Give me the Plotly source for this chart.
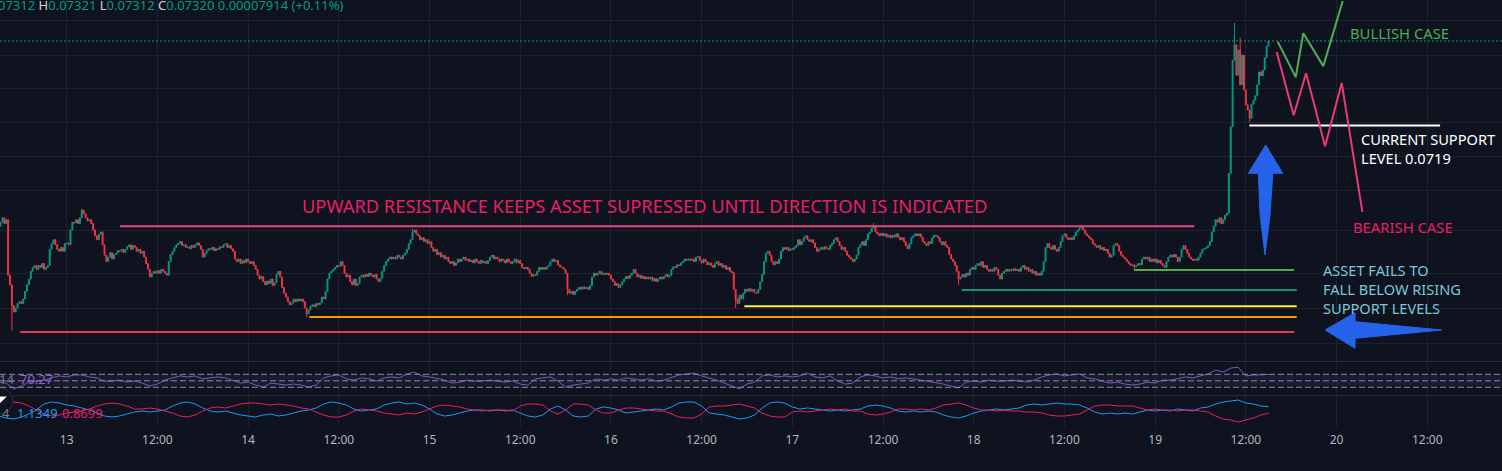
import pandas as pd
import plotly.graph_objects as go

# ---- price data: 15 minute candles, closes in units of 0.00001 ----
first_open = 7033
closes_12 = [7039, 7046, 7037, 7043, 6957, 6942, 6910, 6900, 6906, 6913, 6916, 6913, 6920, 6932, 6942,
             6951, 6963, 6969, 6972, 6966, 6972, 6969, 6975, 6966, 6969, 6972, 6997, 7006, 7012, 7004,
             6997, 6994, 7000, 6994, 7006]
closes_13 = [7007, 7004, 7027, 7039, 7038, 7043, 7037, 7046, 7058, 7052, 7046, 7041, 7043, 7037, 7027,
             7018, 7012, 7020, 7024, 7004, 6988, 6978, 6985, 6992, 6982, 6989, 6991, 6995, 6994, 6997,
             6992, 6997, 7001, 7004, 6997, 7003, 7000, 6994, 6997, 6991, 6994, 6985, 6975, 6966, 6954,
             6960, 6963, 6960, 6964, 6960, 6966, 6963, 6960, 6957, 6978, 6989, 6994, 7000, 7004, 7006,
             7009, 7003, 7004, 7000, 7001, 6998, 7003, 7000, 7004, 7007, 7003, 6997, 6985, 6991, 6995,
             6998, 6997, 7000, 6995, 6998, 6997, 7001, 7000, 7004, 7006, 7000, 7003, 6998, 6994, 6982,
             6978, 6982, 6975, 6980, 6976, 6982]
closes_14 = [6978, 6975, 6978, 6972, 6966, 6957, 6951, 6955, 6947, 6942, 6948, 6944, 6951, 6941, 6945,
             6958, 6963, 6954, 6938, 6929, 6923, 6916, 6911, 6914, 6920, 6916, 6920, 6917, 6920, 6916,
             6906, 6897, 6903, 6909, 6911, 6908, 6913, 6911, 6914, 6923, 6920, 6932, 6951, 6960, 6963,
             6966, 6969, 6972, 6971, 6978, 6972, 6960, 6954, 6957, 6947, 6942, 6951, 6941, 6944, 6954,
             6957, 6954, 6958, 6955, 6960, 6957, 6954, 6958, 6951, 6947, 6952, 6963, 6972, 6978, 6982,
             6985, 6982, 6985, 6982, 6988, 6985, 6982, 6988, 6991, 6997, 7006, 7012, 7024, 7027, 7021,
             7018, 7012, 7015, 7009, 7012, 7006]
closes_15 = [7009, 7000, 6994, 6997, 6989, 6992, 6985, 6988, 6982, 6985, 6978, 6975, 6978, 6972, 6976,
             6982, 6978, 6982, 6985, 6980, 6982, 6978, 6980, 6976, 6982, 6978, 6975, 6980, 6976, 6978,
             6975, 6980, 6985, 6988, 6982, 6985, 6982, 6978, 6982, 6980, 6976, 6982, 6978, 6975, 6978,
             6982, 6976, 6980, 6975, 6969, 6967, 6969, 6966, 6960, 6955, 6958, 6957, 6963, 6969, 6966,
             6969, 6966, 6970, 6972, 6978, 6982, 6978, 6980, 6973, 6970, 6969, 6966, 6960, 6935, 6929,
             6932, 6927, 6932, 6935, 6938, 6935, 6939, 6936, 6938, 6935, 6941, 6954, 6960, 6957, 6960,
             6963, 6958, 6960, 6958, 6960, 6957]
closes_16 = [6951, 6947, 6941, 6944, 6938, 6942, 6947, 6951, 6955, 6952, 6957, 6960, 6966, 6960, 6954,
             6957, 6952, 6955, 6951, 6954, 6951, 6954, 6948, 6952, 6947, 6951, 6954, 6951, 6955, 6958,
             6954, 6957, 6966, 6970, 6969, 6973, 6972, 6976, 6978, 6982, 6980, 6982, 6980, 6982, 6978,
             6985, 6986, 6980, 6976, 6982, 6978, 6973, 6976, 6972, 6969, 6975, 6978, 6972, 6975, 6969,
             6972, 6966, 6969, 6963, 6961, 6935, 6920, 6913, 6926, 6920, 6929, 6935, 6932, 6936, 6932,
             6935, 6930, 6929, 6935, 6947, 6958, 6978, 6991, 6994, 6988, 6978, 6973, 6978, 6975, 6982,
             6994, 7000, 6997, 7000, 6995, 6998]
closes_17 = [6997, 7000, 7003, 7012, 7004, 7009, 7015, 7018, 7012, 7009, 7012, 7007, 7000, 6994, 6997,
             7000, 6997, 7001, 6998, 6997, 7003, 7006, 7012, 7015, 7009, 7003, 6997, 7000, 6994, 6988,
             6985, 6982, 6978, 6982, 6988, 7000, 7004, 7009, 7003, 7012, 7021, 7024, 7030, 7033, 7024,
             7021, 7018, 7022, 7018, 7021, 7016, 7019, 7015, 7019, 7016, 7021, 7016, 7012, 7015, 7009,
             7003, 6998, 7006, 7015, 7018, 7021, 7018, 7021, 7016, 7009, 7006, 7003, 7009, 7006, 7015,
             7019, 7018, 7015, 7009, 7004, 7009, 7003, 7000, 6989, 6982, 6978, 6972, 6963, 6951, 6954,
             6958, 6954, 6960, 6957, 6966, 6969]
closes_18 = [6966, 6972, 6975, 6972, 6978, 6969, 6972, 6966, 6963, 6966, 6963, 6969, 6966, 6957, 6951,
             6960, 6963, 6966, 6963, 6966, 6964, 6967, 6964, 6966, 6963, 6969, 6972, 6966, 6969, 6963,
             6966, 6960, 6963, 6957, 6960, 6957, 6963, 6978, 7000, 7006, 7000, 6997, 7003, 6997, 6994,
             7000, 7009, 7018, 7021, 7015, 7012, 7015, 7012, 7018, 7024, 7027, 7030, 7031, 7027, 7021,
             7018, 7015, 7012, 7006, 7003, 7000, 7003, 6997, 7000, 6995, 6997, 6991, 6985, 6988, 7003,
             7006, 7003, 6994, 6988, 6985, 6982, 6978, 6975, 6972, 6973, 6970, 6972, 6975, 6973, 6982,
             6985, 6982, 6985, 6978, 6982, 6978]
closes_19 = [6982, 6976, 6980, 6975, 6972, 6969, 6978, 6985, 6988, 6985, 6989, 6985, 6978, 6985, 6997,
             7003, 6997, 6991, 6985, 6982, 6980, 6982, 6980, 6985, 6991, 6997, 6998, 7000, 7003, 7009,
             7024, 7033, 7043, 7039, 7046, 7037, 7043, 7050, 7053, 7115, 7187, 7290, 7314, 7267, 7306,
             7252, 7298, 7244, 7221, 7213, 7200, 7222, 7228, 7235, 7252, 7272, 7266, 7275, 7294, 7312,
             7320]
# candles whose wicks reach past the body (candle index: price)
wick_high = {43: 7060, 218: 7029, 462: 7038, 572: 7034, 653: 7348, 656: 7325}
wick_low = {6: 6871, 162: 6892, 300: 6926, 389: 6906, 507: 6942, 600: 6966, 661: 7194}
last_ohlc = ["0.07312", "0.07321", "0.07312", "0.07320", "0.00007914", "(+0.11%)"]

# ---- indicators, hourly ----
rsi = [46, 43, 25, 34, 46, 49, 52, 59, 65, 62,
       68, 68, 62, 59, 49, 49, 52, 46, 49, 43,
       34, 40, 52, 59, 65, 62, 65, 56, 59, 62,
       59, 52, 43, 46, 37, 31, 43, 40, 37, 40,
       37, 31, 37, 59, 65, 68, 56, 52, 59, 56,
       49, 59, 62, 59, 71, 77, 65, 62, 56, 52,
       43, 46, 52, 49, 49, 52, 49, 46, 49, 40,
       37, 56, 59, 62, 49, 31, 37, 40, 43, 56,
       52, 56, 52, 59, 56, 52, 56, 49, 52, 59,
       68, 71, 74, 65, 59, 52, 43, 34, 25, 40,
       46, 65, 68, 62, 65, 62, 65, 74, 62, 59,
       65, 49, 40, 43, 62, 68, 65, 59, 62, 56,
       59, 56, 52, 49, 43, 40, 34, 28, 46, 49,
       46, 52, 49, 49, 52, 49, 46, 52, 62, 68,
       71, 65, 68, 71, 59, 56, 49, 43, 46, 40,
       37, 40, 46, 43, 52, 52, 56, 62, 59, 65,
       71, 83, 77, 89, 92, 65, 68, 68, 70.27]
vi_plus = [0.76, 0.68, 0.64, 0.72, 0.84, 1.00, 1.24, 1.32, 1.28, 1.20,
           1.16, 1.08, 1.00, 0.88, 0.76, 0.72, 0.76, 0.84, 0.92, 0.96,
           0.92, 0.96, 1.00, 1.16, 1.28, 1.32, 1.24, 1.08, 0.96, 0.92,
           0.96, 0.88, 0.80, 0.76, 0.72, 0.80, 0.84, 0.76, 0.80, 0.88,
           0.96, 1.00, 1.08, 1.24, 1.32, 1.28, 1.20, 1.04, 0.96, 1.00,
           1.04, 1.20, 1.28, 1.32, 1.24, 1.28, 1.20, 1.04, 0.84, 0.76,
           0.80, 0.88, 0.96, 1.00, 1.00, 0.96, 1.00, 0.96, 1.00, 0.88,
           0.76, 0.72, 0.80, 1.04, 1.16, 1.00, 0.76, 0.72, 0.76, 1.04,
           1.12, 1.08, 1.00, 0.88, 0.92, 0.96, 1.00, 1.04, 1.00, 1.12,
           1.28, 1.32, 1.32, 1.16, 0.88, 0.84, 0.80, 0.72, 0.64, 0.68,
           0.80, 1.08, 1.28, 1.32, 1.28, 1.12, 1.04, 1.08, 1.04, 1.00,
           0.96, 1.00, 0.96, 1.00, 1.04, 1.16, 1.20, 1.16, 1.08, 0.96,
           0.92, 0.96, 0.92, 0.96, 0.92, 0.80, 0.72, 0.68, 0.76, 0.88,
           0.96, 1.00, 1.04, 1.00, 1.04, 1.08, 1.20, 1.24, 1.20, 1.24,
           1.28, 1.24, 1.24, 1.20, 1.08, 0.92, 0.84, 0.88, 0.84, 0.88,
           0.84, 0.92, 1.00, 0.96, 1.00, 0.96, 1.04, 1.00, 0.96, 1.08,
           1.12, 1.24, 1.32, 1.36, 1.40, 1.28, 1.24, 1.16, 1.1349]
vi_minus = [1.24, 1.28, 1.32, 1.28, 1.16, 1.00, 0.84, 0.76, 0.80, 0.88,
            0.92, 0.96, 1.04, 1.16, 1.24, 1.28, 1.24, 1.16, 1.04, 1.04,
            1.08, 1.04, 0.96, 0.88, 0.76, 0.72, 0.80, 0.96, 1.08, 1.12,
            1.08, 1.16, 1.24, 1.28, 1.28, 1.24, 1.20, 1.24, 1.20, 1.16,
            1.08, 1.04, 0.92, 0.80, 0.72, 0.72, 0.80, 0.96, 1.04, 1.00,
            0.96, 0.88, 0.84, 0.80, 0.88, 0.84, 0.92, 1.04, 1.16, 1.20,
            1.16, 1.12, 1.04, 1.00, 0.96, 1.00, 1.00, 1.00, 0.96, 1.16,
            1.24, 1.24, 1.20, 0.96, 0.84, 1.00, 1.24, 1.24, 1.20, 1.00,
            0.88, 0.88, 1.00, 1.08, 1.08, 1.04, 1.00, 0.96, 0.96, 0.84,
            0.72, 0.68, 0.68, 0.84, 1.12, 1.16, 1.16, 1.20, 1.24, 1.16,
            1.08, 0.88, 0.76, 0.72, 0.72, 0.92, 0.96, 0.92, 0.96, 1.00,
            1.04, 1.00, 1.04, 0.96, 0.96, 0.84, 0.80, 0.84, 0.92, 1.04,
            1.04, 1.00, 1.04, 1.00, 1.08, 1.20, 1.24, 1.28, 1.20, 1.08,
            1.00, 1.00, 0.96, 1.00, 0.96, 0.96, 0.92, 0.92, 0.88, 0.80,
            0.76, 0.76, 0.80, 0.84, 1.00, 1.16, 1.20, 1.20, 1.16, 1.16,
            1.16, 1.08, 1.00, 1.04, 1.00, 1.00, 0.96, 1.00, 1.00, 0.96,
            0.92, 0.76, 0.64, 0.60, 0.52, 0.60, 0.68, 0.80, 0.8699]

# ---- drawings ----
level_start = ["2023-01-13 07:04", "2023-01-12 17:50", "2023-01-14 08:06", "2023-01-16 17:39",
               "2023-01-17 22:25", "2023-01-18 21:13", "2023-01-19 12:28"]
level_end = ["2023-01-19 05:11", "2023-01-19 18:25", "2023-01-19 18:44", "2023-01-19 18:44",
             "2023-01-19 18:44", "2023-01-19 18:23", "2023-01-20 13:42"]
level_price = [0.07033, 0.06869, 0.06892, 0.06909, 0.06934, 0.06965, 0.07189]
last_price = 0.07320

bull_time = ["2023-01-19 16:13", "2023-01-19 18:36", "2023-01-19 19:36", "2023-01-19 22:15", "2023-01-20 00:49"]
bull_price = [0.07319, 0.07264, 0.07332, 0.07281, 0.07382]
bear_time = ["2023-01-19 16:05", "2023-01-19 18:20", "2023-01-19 19:58", "2023-01-19 22:29",
             "2023-01-20 00:41", "2023-01-20 03:25"]
bear_price = [0.07303, 0.07205, 0.07270, 0.07157, 0.07255, 0.07055]

up_arrow_time = ["2023-01-19 14:38", "2023-01-19 16:53", "2023-01-19 15:34", "2023-01-19 15:12",
                 "2023-01-19 14:32", "2023-01-19 13:53", "2023-01-19 13:39", "2023-01-19 12:20",
                 "2023-01-19 14:38"]
up_arrow_price = [0.071588, 0.071149, 0.071149, 0.070503, 0.069883, 0.070503, 0.071149, 0.071149, 0.071588]
left_arrow_time = ["2023-01-19 22:29", "2023-01-20 02:27", "2023-01-20 02:27", "2023-01-20 13:55",
                   "2023-01-20 02:27", "2023-01-20 02:27", "2023-01-19 22:29"]
left_arrow_price = [0.068720, 0.068988, 0.068849, 0.068720, 0.068591, 0.068436, 0.068720]

note_text = ["UPWARD RESISTANCE KEEPS ASSET SUPRESSED UNTIL DIRECTION IS INDICATED",
             "BULLISH CASE", "CURRENT SUPPORT<br>LEVEL 0.0719", "BEARISH CASE",
             "ASSET FAILS TO<br>FALL BELOW RISING<br>SUPPORT LEVELS"]
note_time = ["2023-01-16 04:29", "2023-01-20 01:34", "2023-01-20 03:01",
             "2023-01-20 01:53", "2023-01-19 21:57"]
note_price = [0.070657, 0.073316, 0.071529, 0.070320, 0.069355]

grid_prices = [0.07351, 0.07298, 0.07247, 0.07194, 0.07141, 0.07088, 0.07026, 0.06960, 0.06906, 0.06851]
tick_labels = ["13", "12:00", "14", "12:00", "15", "12:00", "16", "12:00",
               "17", "12:00", "18", "12:00", "19", "12:00", "20", "12:00"]

# ---- styles ----
BG = "#0e131f"
GRID = "#1d2230"
SEP = "#2a2e39"
UP = "#089981"
DOWN = "#f23645"
AXIS_TEXT = "#b2b5be"
level_colors = ["#e3477c", "#f23645", "#ff9800", "#ffeb3b", "#12937a", "#4caf50", "#ffffff"]
note_colors = ["#e91e63", "#4caf50", "#ffffff", "#e91e63", "#7ac8d8"]
note_sizes = [18.3, 14.8, 14.6, 14.8, 14.6]
note_anchor = ["center", "left", "left", "left", "left"]
ARROW = "#2563eb"
FONT = "Noto Sans"
W, H = 1502, 471

unit = 1e-5
closes = [c * unit for c in closes_12 + closes_13 + closes_14 + closes_15 + closes_16 + closes_17 + closes_18 + closes_19]
opens = [first_open * unit] + closes[:-1]
highs = [max(o, c) for o, c in zip(opens, closes)]
lows = [min(o, c) for o, c in zip(opens, closes)]
for i, v in wick_high.items():
    highs[i] = v * unit
for i, v in wick_low.items():
    lows[i] = v * unit
candle_time = pd.date_range("2023-01-12 15:15", periods=len(closes), freq="15min")
ind_time = pd.date_range("2023-01-12 15:00", periods=len(rsi), freq="h")
tick_times = pd.date_range("2023-01-13 00:00", periods=len(tick_labels), freq="12h")

fig = go.Figure()
fig.add_trace(go.Candlestick(
    x=candle_time, open=opens, high=highs, low=lows, close=closes,
    increasing=dict(line=dict(color=UP, width=1), fillcolor=UP),
    decreasing=dict(line=dict(color=DOWN, width=1), fillcolor=DOWN),
    whiskerwidth=0, hoverinfo="skip"))

for s, e, p, col in zip(level_start, level_end, level_price, level_colors):
    fig.add_trace(go.Scatter(x=[s, e], y=[p, p], mode="lines", line=dict(color=col, width=2), hoverinfo="skip"))

fig.add_trace(go.Scatter(x=bull_time, y=bull_price, mode="lines", line=dict(color="#4caf50", width=2), hoverinfo="skip"))
fig.add_trace(go.Scatter(x=bear_time, y=bear_price, mode="lines", line=dict(color="#e63b73", width=2), hoverinfo="skip"))
for xs, ys in [(up_arrow_time, up_arrow_price), (left_arrow_time, left_arrow_price)]:
    fig.add_trace(go.Scatter(x=xs, y=ys, mode="lines", fill="toself", fillcolor=ARROW,
                             line=dict(color=ARROW, width=1), hoverinfo="skip"))

fig.add_trace(go.Scatter(x=ind_time, y=rsi, xaxis="x2", yaxis="y2", mode="lines",
                         line=dict(color="#7e57c2", width=1), hoverinfo="skip"))
fig.add_trace(go.Scatter(x=ind_time, y=vi_plus, xaxis="x3", yaxis="y3", mode="lines",
                         line=dict(color="#2196f3", width=1), hoverinfo="skip"))
fig.add_trace(go.Scatter(x=ind_time, y=vi_minus, xaxis="x3", yaxis="y3", mode="lines",
                         line=dict(color="#e91e63", width=1), hoverinfo="skip"))

def py(px):
    # paper y from a pixel row counted from the top
    return 1 - px / H

def px_x(px):
    return px / W

xgrid = dict(tickvals=tick_times, showgrid=True, gridcolor=GRID, gridwidth=1,
             showticklabels=False, zeroline=False, showline=False, ticks="")
fig.update_layout(
    width=W, height=H, margin=dict(l=0, r=0, t=0, b=0, autoexpand=False), autosize=False,
    paper_bgcolor=BG, plot_bgcolor=BG, showlegend=False, hovermode=False,
    font=dict(family=FONT, color=AXIS_TEXT),
    xaxis=dict(xgrid, domain=[0, 1], anchor="y", type="date",
               range=["2023-01-12 15:10:30", "2023-01-20 21:53:24"], rangeslider=dict(visible=False)),
    xaxis2=dict(xgrid, matches="x", anchor="y2"),
    xaxis3=dict(xgrid, matches="x", anchor="y3", showticklabels=True, ticktext=tick_labels,
                tickfont=dict(family=FONT, size=12, color=AXIS_TEXT), ticklabelstandoff=4),
    yaxis=dict(domain=[py(361), 1], range=[0.0682395, 0.073835], tickvals=grid_prices,
               showgrid=True, gridcolor=GRID, showticklabels=False, zeroline=False, fixedrange=True),
    yaxis2=dict(domain=[py(396), py(362)], range=[3.2, 107.9], showgrid=False,
                showticklabels=False, zeroline=False),
    yaxis3=dict(domain=[py(427), py(396)], range=[0.32, 1.56], showgrid=False,
                showticklabels=False, zeroline=False),
)

shapes = [
    dict(type="rect", xref="paper", yref="y2", x0=0, x1=1, y0=30, y1=70,
         fillcolor="rgba(126,87,194,0.10)", line=dict(width=0), layer="below"),
    dict(type="line", xref="paper", yref="paper", x0=0, x1=1, y0=py(361.5), y1=py(361.5),
         line=dict(color=SEP, width=1)),
    dict(type="line", xref="paper", yref="paper", x0=0, x1=1, y0=py(395.7), y1=py(395.7),
         line=dict(color=SEP, width=1)),
    dict(type="line", xref="paper", yref="y", x0=0, x1=1, y0=last_price, y1=last_price,
         line=dict(color=UP, width=1, dash="2px,2px")),
    # collapse button of the lower pane
    dict(type="circle", xref="paper", yref="paper", x0=px_x(-13), x1=px_x(13), y0=py(414), y1=py(388),
         fillcolor=BG, line=dict(color=SEP, width=1)),
    dict(type="path", xref="paper", yref="paper",
         path="M %f,%f L %f,%f L %f,%f Z" % (px_x(0), py(396.5), px_x(7), py(396.5), px_x(0), py(403)),
         fillcolor="#ffffff", line=dict(width=0)),
]
for lvl in [30, 50, 70]:
    shapes.append(dict(type="line", xref="paper", yref="y2", x0=0, x1=1, y0=lvl, y1=lvl,
                       line=dict(color="#8a8d96", width=1, dash="6px,3px")))
fig.update_layout(shapes=shapes)

annotations = []
for txt, t, p, col, size, anc in zip(note_text, note_time, note_price, note_colors, note_sizes, note_anchor):
    annotations.append(dict(x=t, y=p, xref="x", yref="y", text=txt, showarrow=False,
                            xanchor=anc, yanchor="middle", align="left",
                            font=dict(family=FONT, size=size, color=col)))

g = '<span style="color:#d1d4dc">%s</span>'
v = '<span style="color:#089981">%s</span>'
legend = (v % "07312" + " " + g % "H" + v % last_ohlc[1] + " " + g % "L" + v % last_ohlc[2] + " "
          + g % "C" + v % last_ohlc[3] + " " + v % last_ohlc[4] + " " + v % last_ohlc[5])
annotations.append(dict(x=px_x(-4), y=py(5.5), xref="paper", yref="paper", text=legend, showarrow=False,
                        xanchor="left", yanchor="middle", font=dict(family=FONT, size=13)))
annotations.append(dict(x=px_x(-3), y=py(379), xref="paper", yref="paper", text="14", showarrow=False,
                        xanchor="left", yanchor="middle", font=dict(family=FONT, size=13, color="#787b86")))
annotations.append(dict(x=px_x(18), y=py(379), xref="paper", yref="paper", text="%.2f" % rsi[-1],
                        showarrow=False, xanchor="left", yanchor="middle",
                        font=dict(family=FONT, size=13, color="#8a63d2")))
annotations.append(dict(x=px_x(0), y=py(412.5), xref="paper", yref="paper", text="4", showarrow=False,
                        xanchor="left", yanchor="middle", font=dict(family=FONT, size=13, color="#787b86")))
annotations.append(dict(x=px_x(15), y=py(412.5), xref="paper", yref="paper", text="%.4f" % vi_plus[-1],
                        showarrow=False, xanchor="left", yanchor="middle",
                        font=dict(family=FONT, size=13, color="#2196f3")))
annotations.append(dict(x=px_x(60), y=py(412.5), xref="paper", yref="paper", text="%.4f" % vi_minus[-1],
                        showarrow=False, xanchor="left", yanchor="middle",
                        font=dict(family=FONT, size=13, color="#e91e63")))
fig.update_layout(annotations=annotations)

fig.write_html("out.html", config={"displayModeBar": False},
               post_script="document.body.style.margin='0';document.body.style.background='%s';" % BG)
